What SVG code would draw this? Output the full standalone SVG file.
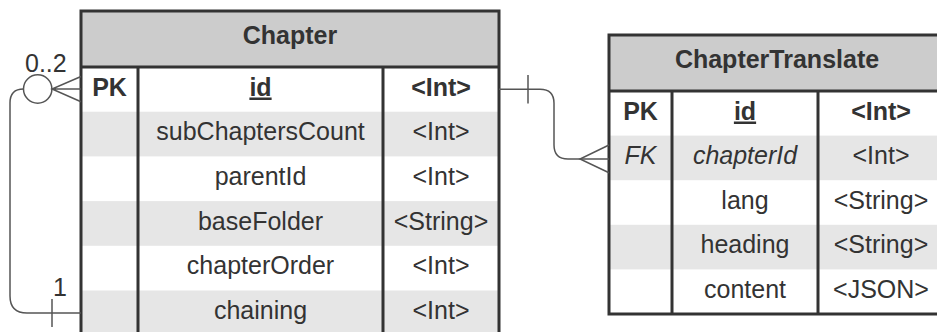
<svg xmlns="http://www.w3.org/2000/svg" width="937" height="332" viewBox="0 0 937 332">
  <style>
    .hdr { fill: #cccccc; }
    .alt { fill: #e6e6e6; }
    .bg { fill: #ffffff; }
    .frame { fill: none; stroke: #333333; stroke-width: 3; }
    .div { stroke: #333333; stroke-width: 3; }
    text { font-family: "Liberation Sans", Arial, sans-serif; font-size: 25px; fill: #333333; text-anchor: middle; }
    .b { font-weight: bold; }
    .i { font-style: italic; }
    .u { text-decoration: underline; }
    .lbl { text-anchor: start; }
    .conn { fill: none; stroke: #555555; stroke-width: 1.5; }
  </style>

  <!-- Chapter entity -->
  <g id="chapter">
    <rect class="bg" x="81" y="11" width="418" height="330"/>
    <rect class="hdr" x="81" y="11" width="418" height="56"/>
    <rect class="alt" x="81" y="111.7" width="418" height="44.7"/>
    <rect class="alt" x="81" y="201.1" width="418" height="44.7"/>
    <rect class="alt" x="81" y="290.5" width="418" height="44.7"/>
    <line class="div" x1="81" y1="67" x2="499" y2="67"/>
    <line class="div" x1="138" y1="67" x2="138" y2="341"/>
    <line class="div" x1="383" y1="67" x2="383" y2="341"/>
    <rect class="frame" x="81" y="11" width="418" height="330"/>
    <text class="b" x="290" y="44">Chapter</text>
    <text class="b" x="109.5" y="95.5">PK</text>
    <text class="b u" x="260.5" y="95.5">id</text>
    <text class="b" x="441" y="95.5">&lt;Int&gt;</text>
    <text x="260.5" y="140">subChaptersCount</text>
    <text x="441" y="140">&lt;Int&gt;</text>
    <text x="260.5" y="185">parentId</text>
    <text x="441" y="185">&lt;Int&gt;</text>
    <text x="260.5" y="229.5">baseFolder</text>
    <text x="441" y="229.5">&lt;String&gt;</text>
    <text x="260.5" y="274">chapterOrder</text>
    <text x="441" y="274">&lt;Int&gt;</text>
    <text x="260.5" y="319">chaining</text>
    <text x="441" y="319">&lt;Int&gt;</text>
  </g>

  <!-- ChapterTranslate entity -->
  <g id="chapterTranslate">
    <rect class="bg" x="609" y="35" width="336" height="279"/>
    <rect class="hdr" x="609" y="35" width="336" height="56"/>
    <rect class="alt" x="609" y="135.6" width="336" height="44.6"/>
    <rect class="alt" x="609" y="224.8" width="336" height="44.6"/>
    <line class="div" x1="609" y1="91" x2="945" y2="91"/>
    <line class="div" x1="672" y1="91" x2="672" y2="314"/>
    <line class="div" x1="818" y1="91" x2="818" y2="314"/>
    <rect class="frame" x="609" y="35" width="336" height="279"/>
    <text class="b" x="777" y="68">ChapterTranslate</text>
    <text class="b" x="640.5" y="119.5">PK</text>
    <text class="b u" x="745" y="119.5">id</text>
    <text class="b" x="881" y="119.5">&lt;Int&gt;</text>
    <text class="i" x="640.5" y="164">FK</text>
    <text class="i" x="745" y="164">chapterId</text>
    <text x="881" y="164">&lt;Int&gt;</text>
    <text x="745" y="208.5">lang</text>
    <text x="881" y="208.5">&lt;String&gt;</text>
    <text x="745" y="253">heading</text>
    <text x="881" y="253">&lt;String&gt;</text>
    <text x="745" y="297.5">content</text>
    <text x="881" y="297.5">&lt;JSON&gt;</text>
  </g>

  <!-- Relationships -->
  <g id="connectors">
    <!-- Chapter.id (one) to ChapterTranslate.chapterId (many) -->
    <path class="conn" d="M499,89.3 L540,89.3 Q554,89.3 554,103.3 L554,145 Q554,159 568,159 L609,159"/>
    <line class="conn" x1="528" y1="75" x2="528" y2="103.5"/>
    <path class="conn" d="M609,145 L580,159 L609,172.7"/>

    <!-- Chapter parent (one) to sub-chapters (zero to two) -->
    <path class="conn" d="M23.5,89 Q10,89 10,103 L10,296 Q10,313 27,313 L81,313"/>
    <line class="conn" x1="52" y1="299" x2="52" y2="327"/>
    <circle class="conn" cx="37.7" cy="89" r="14.2"/>
    <path class="conn" d="M81,76.5 L52,89 L81,101.7 M52,89 L81,89"/>
    <text class="lbl" x="25" y="72">0..2</text>
    <text class="lbl" x="53" y="296">1</text>
  </g>
</svg>
